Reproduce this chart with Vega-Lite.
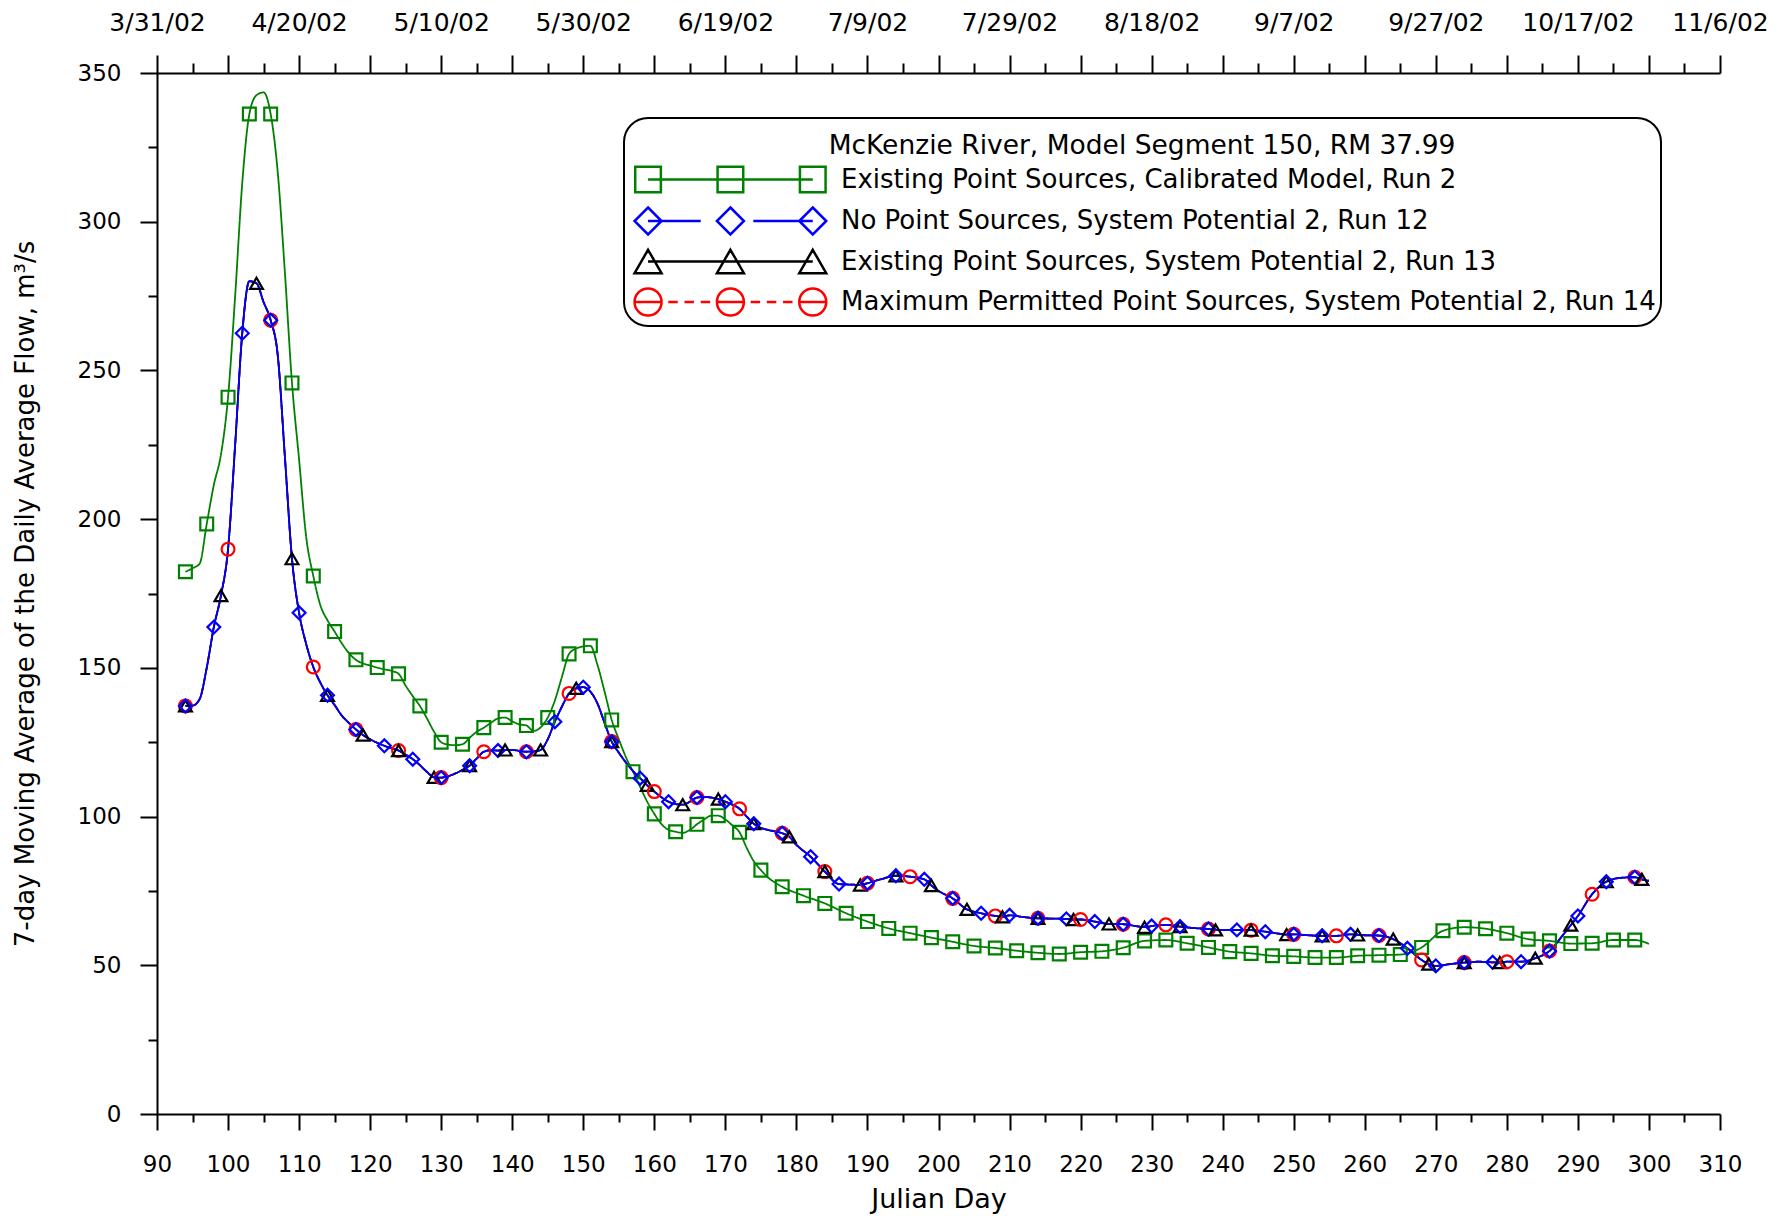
{
  "$schema": "https://vega.github.io/schema/vega-lite/v6.json",
  "width": 1563,
  "height": 1041,
  "autosize": {"type": "none"},
  "padding": {"left": 157, "top": 73, "right": 70, "bottom": 102},
  "background": "white",
  "config": {
    "font": "DejaVu Sans",
    "view": {"stroke": null},
    "axis": {"grid": false, "domainColor": "black", "tickColor": "black", "labelColor": "black", "titleColor": "black", "domainWidth": 2, "tickWidth": 2, "labelFont": "DejaVu Sans", "titleFont": "DejaVu Sans", "titleFontWeight": "normal"},
    "legend": {"strokeWidth": 2}
  },
  "data": {"values": [
    {"day":94,"run2":182.3,"run12":137.2,"run13":137.2,"run14":137.2},
    {"day":95,"run2":183.5,"run12":137.3,"run13":137.3,"run14":137.3},
    {"day":96,"run2":185,"run12":139.5,"run13":139.5,"run14":139.5},
    {"day":97,"run2":198.4,"run12":150,"run13":150,"run14":150},
    {"day":98,"run2":211.5,"run12":163.7,"run13":163.7,"run14":163.7},
    {"day":99,"run2":221.7,"run12":174.3,"run13":174.3,"run14":174.3},
    {"day":100,"run2":241,"run12":189.9,"run13":189.9,"run14":189.9},
    {"day":101,"run2":275,"run12":225,"run13":225,"run14":225},
    {"day":102,"run2":313,"run12":262.5,"run13":262.5,"run14":262.5},
    {"day":103,"run2":336.2,"run12":280,"run13":280,"run14":280},
    {"day":104,"run2":342.5,"run12":279.3,"run13":279.3,"run14":279.3},
    {"day":105,"run2":343.5,"run12":273,"run13":273,"run14":273},
    {"day":106,"run2":336.2,"run12":266.9,"run13":266.9,"run14":266.9},
    {"day":107,"run2":316.5,"run12":255,"run13":255,"run14":255},
    {"day":108,"run2":283,"run12":221,"run13":221,"run14":221},
    {"day":109,"run2":245.8,"run12":186.7,"run13":186.7,"run14":186.7},
    {"day":110,"run2":220,"run12":168.5,"run13":168.5,"run14":168.5},
    {"day":111,"run2":194,"run12":158,"run13":158,"run14":158},
    {"day":112,"run2":180.9,"run12":150.3,"run13":150.3,"run14":150.3},
    {"day":113,"run2":171,"run12":145,"run13":145,"run14":145},
    {"day":114,"run2":166,"run12":140.8,"run13":140.8,"run14":140.8},
    {"day":115,"run2":162.2,"run12":137.5,"run13":137.5,"run14":137.5},
    {"day":116,"run2":158.3,"run12":134,"run13":134,"run14":134},
    {"day":117,"run2":155,"run12":131.5,"run13":131.5,"run14":131.5},
    {"day":118,"run2":152.7,"run12":129.3,"run13":129.3,"run14":129.3},
    {"day":119,"run2":151.5,"run12":127.4,"run13":127.4,"run14":127.4},
    {"day":120,"run2":150.8,"run12":126,"run13":126,"run14":126},
    {"day":121,"run2":150.1,"run12":124.8,"run13":124.8,"run14":124.8},
    {"day":122,"run2":149.5,"run12":123.8,"run13":123.8,"run14":123.8},
    {"day":123,"run2":149,"run12":123,"run13":123,"run14":123},
    {"day":124,"run2":148,"run12":122.2,"run13":122.2,"run14":122.2},
    {"day":125,"run2":144,"run12":120.8,"run13":120.8,"run14":120.8},
    {"day":126,"run2":140.5,"run12":119.3,"run13":119.3,"run14":119.3},
    {"day":127,"run2":137.2,"run12":117.3,"run13":117.3,"run14":117.3},
    {"day":128,"run2":133,"run12":115,"run13":115,"run14":115},
    {"day":129,"run2":128.5,"run12":113.2,"run13":113.2,"run14":113.2},
    {"day":130,"run2":125,"run12":113.1,"run13":113.1,"run14":113.1},
    {"day":131,"run2":124.2,"run12":113.6,"run13":113.6,"run14":113.6},
    {"day":132,"run2":124,"run12":114.5,"run13":114.5,"run14":114.5},
    {"day":133,"run2":124.3,"run12":115.7,"run13":115.7,"run14":115.7},
    {"day":134,"run2":126.5,"run12":117.1,"run13":117.1,"run14":117.1},
    {"day":135,"run2":128.5,"run12":119.5,"run13":119.5,"run14":119.5},
    {"day":136,"run2":129.9,"run12":121.8,"run13":121.8,"run14":121.8},
    {"day":137,"run2":131.5,"run12":122.3,"run13":122.3,"run14":122.3},
    {"day":138,"run2":133,"run12":122.2,"run13":122.2,"run14":122.2},
    {"day":139,"run2":133.3,"run12":122.4,"run13":122.4,"run14":122.4},
    {"day":140,"run2":132,"run12":122.4,"run13":122.4,"run14":122.4},
    {"day":141,"run2":131,"run12":122.1,"run13":122.1,"run14":122.1},
    {"day":142,"run2":130.6,"run12":121.8,"run13":121.8,"run14":121.8},
    {"day":143,"run2":128.8,"run12":121.9,"run13":121.9,"run14":121.9},
    {"day":144,"run2":130,"run12":122.4,"run13":122.4,"run14":122.4},
    {"day":145,"run2":133.3,"run12":126,"run13":126,"run14":126},
    {"day":146,"run2":139,"run12":131.9,"run13":131.9,"run14":131.9},
    {"day":147,"run2":147,"run12":137,"run13":137,"run14":137},
    {"day":148,"run2":154.7,"run12":141.4,"run13":141.4,"run14":141.4},
    {"day":149,"run2":156.5,"run12":143.1,"run13":143.1,"run14":143.1},
    {"day":150,"run2":157.2,"run12":143.5,"run13":143.5,"run14":143.5},
    {"day":151,"run2":157.4,"run12":142,"run13":142,"run14":142},
    {"day":152,"run2":151,"run12":138,"run13":138,"run14":138},
    {"day":153,"run2":142,"run12":131.5,"run13":131.5,"run14":131.5},
    {"day":154,"run2":132.5,"run12":125.2,"run13":125.2,"run14":125.2},
    {"day":155,"run2":126,"run12":121.5,"run13":121.5,"run14":121.5},
    {"day":156,"run2":120,"run12":118.2,"run13":118.2,"run14":118.2},
    {"day":157,"run2":115.1,"run12":115.3,"run13":115.3,"run14":115.3},
    {"day":158,"run2":110,"run12":112.9,"run13":112.9,"run14":112.9},
    {"day":159,"run2":105,"run12":110.5,"run13":110.5,"run14":110.5},
    {"day":160,"run2":100.9,"run12":108.4,"run13":108.4,"run14":108.4},
    {"day":161,"run2":97.5,"run12":106.5,"run13":106.5,"run14":106.5},
    {"day":162,"run2":95.5,"run12":105,"run13":105,"run14":105},
    {"day":163,"run2":94.9,"run12":104.2,"run13":104.2,"run14":104.2},
    {"day":164,"run2":94.5,"run12":104,"run13":104,"run14":104},
    {"day":165,"run2":95.5,"run12":105,"run13":105,"run14":105},
    {"day":166,"run2":97.4,"run12":106.4,"run13":106.4,"run14":106.4},
    {"day":167,"run2":99,"run12":106.6,"run13":106.6,"run14":106.6},
    {"day":168,"run2":100.3,"run12":106.4,"run13":106.4,"run14":106.4},
    {"day":169,"run2":100.3,"run12":105.9,"run13":105.9,"run14":105.9},
    {"day":170,"run2":99,"run12":105,"run13":105,"run14":105},
    {"day":171,"run2":97,"run12":104,"run13":104,"run14":104},
    {"day":172,"run2":94.7,"run12":102.6,"run13":102.6,"run14":102.6},
    {"day":173,"run2":89.5,"run12":100,"run13":100,"run14":100},
    {"day":174,"run2":85,"run12":97.6,"run13":97.6,"run14":97.6},
    {"day":175,"run2":82,"run12":96.2,"run13":96.2,"run14":96.2},
    {"day":176,"run2":79.5,"run12":95.5,"run13":95.5,"run14":95.5},
    {"day":177,"run2":77.8,"run12":95,"run13":95,"run14":95},
    {"day":178,"run2":76.4,"run12":94.4,"run13":94.4,"run14":94.4},
    {"day":179,"run12":93.2,"run13":93.2,"run14":93.2},
    {"day":180,"run12":90.5,"run13":90.5,"run14":90.5},
    {"day":181,"run2":73.4},
    {"day":182,"run12":86.5,"run13":86.5,"run14":86.5},
    {"day":184,"run2":70.8,"run12":81.5,"run13":81.5,"run14":81.5},
    {"day":186,"run12":77.3,"run13":77.3,"run14":77.3},
    {"day":187,"run2":67.5},
    {"day":188,"run12":77.1,"run13":77.1,"run14":77.1},
    {"day":189,"run12":77,"run13":77,"run14":77},
    {"day":190,"run2":64.7,"run12":77.6,"run13":77.6,"run14":77.6},
    {"day":192,"run12":79,"run13":79,"run14":79},
    {"day":193,"run2":62.4},
    {"day":194,"run12":80.1,"run13":80.1,"run14":80.1},
    {"day":196,"run2":60.8,"run12":79.8,"run13":79.8,"run14":79.8},
    {"day":198,"run12":78.9,"run13":78.9,"run14":78.9},
    {"day":199,"run2":59.3,"run12":76.8,"run13":76.8,"run14":76.8},
    {"day":200,"run12":75,"run13":75,"run14":75},
    {"day":202,"run2":57.9,"run12":72.5,"run13":72.5,"run14":72.5},
    {"day":204,"run12":68.8,"run13":68.8,"run14":68.8},
    {"day":205,"run2":56.5},
    {"day":206,"run12":67.5,"run13":67.5,"run14":67.5},
    {"day":208,"run2":55.8,"run12":66.6,"run13":66.6,"run14":66.6},
    {"day":209,"run12":66.3,"run13":66.3,"run14":66.3},
    {"day":210,"run12":66.8,"run13":66.8,"run14":66.8},
    {"day":211,"run2":54.9},
    {"day":212,"run12":66.2,"run13":66.2,"run14":66.2},
    {"day":214,"run2":54.2,"run12":65.8,"run13":65.8,"run14":65.8},
    {"day":216,"run12":65.7,"run13":65.7,"run14":65.7},
    {"day":217,"run2":53.8},
    {"day":218,"run12":65.6,"run13":65.6,"run14":65.6},
    {"day":219,"run12":65.4,"run13":65.4,"run14":65.4},
    {"day":220,"run2":54.4,"run12":65.4,"run13":65.4,"run14":65.4},
    {"day":222,"run12":64.7,"run13":64.7,"run14":64.7},
    {"day":223,"run2":54.7},
    {"day":224,"run12":63.9,"run13":63.9,"run14":63.9},
    {"day":226,"run2":55.9,"run12":63.8,"run13":63.8,"run14":63.8},
    {"day":228,"run12":63.1,"run13":63.1,"run14":63.1},
    {"day":229,"run2":58.2,"run12":62.8,"run13":62.8,"run14":62.8},
    {"day":230,"run12":63.2,"run13":63.2,"run14":63.2},
    {"day":232,"run2":58.5,"run12":63.6,"run13":63.6,"run14":63.6},
    {"day":234,"run12":63,"run13":63,"run14":63},
    {"day":235,"run2":57.4},
    {"day":236,"run12":62.5,"run13":62.5,"run14":62.5},
    {"day":238,"run2":56,"run12":62.2,"run13":62.2,"run14":62.2},
    {"day":239,"run12":61.9,"run13":61.9,"run14":61.9},
    {"day":240,"run12":61.9,"run13":61.9,"run14":61.9},
    {"day":241,"run2":54.6},
    {"day":242,"run12":61.9,"run13":61.9,"run14":61.9},
    {"day":244,"run2":54,"run12":61.8,"run13":61.8,"run14":61.8},
    {"day":246,"run12":61.3,"run13":61.3,"run14":61.3},
    {"day":247,"run2":53.2},
    {"day":248,"run12":60.6,"run13":60.6,"run14":60.6},
    {"day":249,"run12":60.3,"run13":60.3,"run14":60.3},
    {"day":250,"run2":53,"run12":60.4,"run13":60.4,"run14":60.4},
    {"day":252,"run12":60.1,"run13":60.1,"run14":60.1},
    {"day":253,"run2":52.6},
    {"day":254,"run12":59.9,"run13":59.9,"run14":59.9},
    {"day":256,"run2":52.6,"run12":59.9,"run13":59.9,"run14":59.9},
    {"day":258,"run12":60.4,"run13":60.4,"run14":60.4},
    {"day":259,"run2":53.2,"run12":60.2,"run13":60.2,"run14":60.2},
    {"day":260,"run12":60.1,"run13":60.1,"run14":60.1},
    {"day":262,"run2":53.4,"run12":60,"run13":60,"run14":60},
    {"day":264,"run12":58.8,"run13":58.8,"run14":58.8},
    {"day":265,"run2":53.6},
    {"day":266,"run12":55.7,"run13":55.7,"run14":55.7},
    {"day":268,"run2":56,"run12":51.8,"run13":51.8,"run14":51.8},
    {"day":269,"run12":50.4,"run13":50.4,"run14":50.4},
    {"day":270,"run12":49.8,"run13":49.8,"run14":49.8},
    {"day":271,"run2":61.6},
    {"day":272,"run12":50.4,"run13":50.4,"run14":50.4},
    {"day":274,"run2":62.8,"run12":50.9,"run13":50.9,"run14":50.9},
    {"day":276,"run12":51.2,"run13":51.2,"run14":51.2},
    {"day":277,"run2":62.3},
    {"day":278,"run12":51,"run13":51,"run14":51},
    {"day":279,"run12":50.9,"run13":50.9,"run14":50.9},
    {"day":280,"run2":60.8,"run12":51.2,"run13":51.2,"run14":51.2},
    {"day":282,"run12":51.2,"run13":51.2,"run14":51.2},
    {"day":283,"run2":58.8},
    {"day":284,"run12":52.4,"run13":52.4,"run14":52.4},
    {"day":286,"run2":58.2,"run12":54.8,"run13":54.8,"run14":54.8},
    {"day":288,"run12":60.5,"run13":60.5,"run14":60.5},
    {"day":289,"run2":57.3,"run12":63.5,"run13":63.5,"run14":63.5},
    {"day":290,"run12":66.6,"run13":66.6,"run14":66.6},
    {"day":292,"run2":57.4,"run12":73.9,"run13":73.9,"run14":73.9},
    {"day":294,"run12":78.1,"run13":78.1,"run14":78.1},
    {"day":295,"run2":58.5},
    {"day":296,"run12":79.4,"run13":79.4,"run14":79.4},
    {"day":298,"run2":58.5,"run12":79.6,"run13":79.6,"run14":79.6},
    {"day":299,"run12":78.9,"run13":78.9,"run14":78.9},
    {"day":300,"run2":57.2,"run12":78.4,"run13":78.4,"run14":78.4}
  ]},
  "transform": [
    {"fold": ["run2", "run14", "run13", "run12"], "as": ["series", "flow"]},
    {"filter": "isValid(datum.flow)"}
  ],
  "layer": [
    {
      "mark": {"type": "line", "interpolate": "monotone", "strokeWidth": 1.8},
      "encoding": {
        "x": {"field": "day", "type": "quantitative",
          "scale": {"domain": [90, 310], "nice": false, "zero": false},
          "axis": {"orient": "bottom",
            "values": [90,95,100,105,110,115,120,125,130,135,140,145,150,155,160,165,170,175,180,185,190,195,200,205,210,215,220,225,230,235,240,245,250,255,260,265,270,275,280,285,290,295,300,305,310],
            "tickSize": {"condition": {"test": "datum.value % 10 === 0", "value": 16}, "value": 8},
            "labelExpr": "datum.value % 10 === 0 ? datum.label : ''",
            "labelPadding": 23, "labelFontSize": 23, "labelOverlap": false, "labelFlush": false, "labelBound": false,
            "title": "Julian Day", "titleFontSize": 27, "titleY": 85, "titleBaseline": "middle"}},
        "y": {"field": "flow", "type": "quantitative",
          "scale": {"domain": [0, 350], "nice": false, "zero": true},
          "axis": {"orient": "left",
            "values": [0,25,50,75,100,125,150,175,200,225,250,275,300,325,350],
            "tickSize": {"condition": {"test": "datum.value % 50 === 0", "value": 17}, "value": 9},
            "labelExpr": "datum.value % 50 === 0 ? datum.label : ''",
            "labelPadding": 19, "labelFontSize": 23, "labelOverlap": false, "labelFlush": false, "labelBound": false,
            "title": "7-day Moving Average of the Daily Average Flow, m³/s", "titleFontSize": 26,
            "titleX": -132, "titleY": 520.5, "titleAngle": -90, "titleAlign": "center", "titleBaseline": "middle"}},
        "color": {"field": "series", "type": "nominal",
          "scale": {"domain": ["run2", "run12", "run13", "run14"], "range": ["#008000", "#0000ff", "#000000", "#ff0000"]},
          "legend": null},
        "strokeDash": {"field": "series", "type": "nominal",
          "scale": {"domain": ["run2", "run12", "run13", "run14"], "range": [[1, 0], [1, 0], [1, 0], [7, 4]]},
          "legend": null}
      }
    },
    {
      "transform": [{"filter": "(datum.series === 'run2' && (datum.day - 94) % 3 === 0) || (datum.series === 'run12' && (datum.day - 94) % 4 === 0) || (datum.series === 'run13' && (datum.day - 94) % 5 === 0) || (datum.series === 'run14' && (datum.day - 94) % 6 === 0)"}],
      "mark": {"type": "point", "filled": false, "strokeWidth": 2.2, "size": 165, "opacity": 1},
      "encoding": {
        "x": {"field": "day", "type": "quantitative",
          "axis": {"orient": "top",
            "values": [90,95,100,105,110,115,120,125,130,135,140,145,150,155,160,165,170,175,180,185,190,195,200,205,210,215,220,225,230,235,240,245,250,255,260,265,270,275,280,285,290,295,300,305,310],
            "tickSize": {"condition": {"test": "datum.value % 10 === 0", "value": 18}, "value": 10},
            "labelExpr": "(datum.value - 90) % 20 === 0 ? timeFormat(datetime(2002, 0, datum.value), '%-m/%-d/%y') : ''",
            "labelPadding": 20, "labelFontSize": 25, "labelOverlap": false, "labelFlush": false, "labelBound": false,
            "title": null}},
        "y": {"field": "flow", "type": "quantitative", "axis": null},
        "color": {"field": "series", "type": "nominal",
          "scale": {"domain": ["run2", "run12", "run13", "run14"], "range": ["#008000", "#0000ff", "#000000", "#ff0000"]},
          "legend": null},
        "shape": {"field": "series", "type": "nominal",
          "scale": {"domain": ["run2", "run12", "run13", "run14"], "range": ["square", "diamond", "triangle-up", "circle"]},
          "legend": null}
      }
    },
    {
      "transform": [{"filter": "datum.day < 0"}],
      "mark": {"type": "point", "filled": false, "strokeWidth": 2.5, "opacity": 1},
      "encoding": {
        "x": {"field": "day", "type": "quantitative", "axis": null},
        "y": {"field": "flow", "type": "quantitative", "axis": null},
        "color": {"field": "series", "type": "nominal",
          "scale": {"domain": ["run2", "run12", "run13", "run14"], "range": ["#008000", "#0000ff", "#000000", "#ff0000"]},
          "legend": {"title": ["", "McKenzie River, Model Segment 150, RM 37.99"], "orient": "none", "legendX": 467, "legendY": 45,
            "strokeColor": "black", "fillColor": "white", "cornerRadius": 24, "padding": 5,
            "titleFontSize": 26.5, "titleFontWeight": "normal", "titleAnchor": "middle", "titlePadding": 5, "titleLimit": 2000, "titleColor": "black",
            "titleLineHeight": 10,
            "labelFontSize": 26, "labelLimit": 2000, "labelOffset": 182, "labelColor": "black",
            "symbolSize": 729, "symbolStrokeWidth": 2.5, "rowPadding": 4.5,
            "labelExpr": "datum.value === 'run2' ? 'Existing Point Sources, Calibrated Model, Run 2' : datum.value === 'run12' ? 'No Point Sources, System Potential 2, Run 12' : datum.value === 'run13' ? 'Existing Point Sources, System Potential 2, Run 13' : 'Maximum Permitted Point Sources, System Potential 2, Run 14'"}},
        "shape": {"field": "series", "type": "nominal",
          "scale": {"domain": ["run2", "run12", "run13", "run14"], "range": [
            "M-0.65,-0.95H1.25V0.95H-0.65Z M5.45,-0.95H7.35V0.95H5.45Z M11.55,-0.95H13.45V0.95H11.55Z M0.3,0H12.5",
            "M0.3,-1L1.3,0L0.3,1L-0.7,0Z M6.4,-1L7.4,0L6.4,1L5.4,0Z M12.5,-1L13.5,0L12.5,1L11.5,0Z M0.3,0H4.2 M8.1,0H12.5",
            "M0.3,-0.87L1.3,0.87L-0.7,0.87Z M6.4,-0.87L7.4,0.87L5.4,0.87Z M12.5,-0.87L13.5,0.87L11.5,0.87Z M0.3,0H12.5",
            "M1.3,0C1.3,0.552 0.852,1 0.3,1C-0.252,1 -0.7,0.552 -0.7,0C-0.7,-0.552 -0.252,-1 0.3,-1C0.852,-1 1.3,-0.552 1.3,0Z M7.4,0C7.4,0.552 6.952,1 6.4,1C5.848,1 5.4,0.552 5.4,0C5.4,-0.552 5.848,-1 6.4,-1C6.952,-1 7.4,-0.552 7.4,0Z M13.5,0C13.5,0.552 13.052,1 12.5,1C11.948,1 11.5,0.552 11.5,0C11.5,-0.552 11.948,-1 12.5,-1C13.052,-1 13.5,-0.552 13.5,0Z M-0.7,0H1.3 M1.8,0H2.5 M3,0H3.7 M4.2,0H4.9 M5.4,0H7.4 M7.9,0H8.6 M9.1,0H9.8 M10.3,0H11 M11.5,0H13.5"
          ]},
          "legend": {"title": ["", "McKenzie River, Model Segment 150, RM 37.99"], "orient": "none", "legendX": 467, "legendY": 45,
            "strokeColor": "black", "fillColor": "white", "cornerRadius": 24, "padding": 5,
            "titleFontSize": 26.5, "titleFontWeight": "normal", "titleAnchor": "middle", "titlePadding": 5, "titleLimit": 2000, "titleColor": "black",
            "titleLineHeight": 10,
            "labelFontSize": 26, "labelLimit": 2000, "labelOffset": 182, "labelColor": "black",
            "symbolSize": 729, "symbolStrokeWidth": 2.5, "rowPadding": 4.5,
            "labelExpr": "datum.value === 'run2' ? 'Existing Point Sources, Calibrated Model, Run 2' : datum.value === 'run12' ? 'No Point Sources, System Potential 2, Run 12' : datum.value === 'run13' ? 'Existing Point Sources, System Potential 2, Run 13' : 'Maximum Permitted Point Sources, System Potential 2, Run 14'"}}
      }
    }
  ],
  "resolve": {
    "scale": {"color": "independent", "shape": "independent", "strokeDash": "independent"},
    "axis": {"x": "independent", "y": "independent"}
  }
}
